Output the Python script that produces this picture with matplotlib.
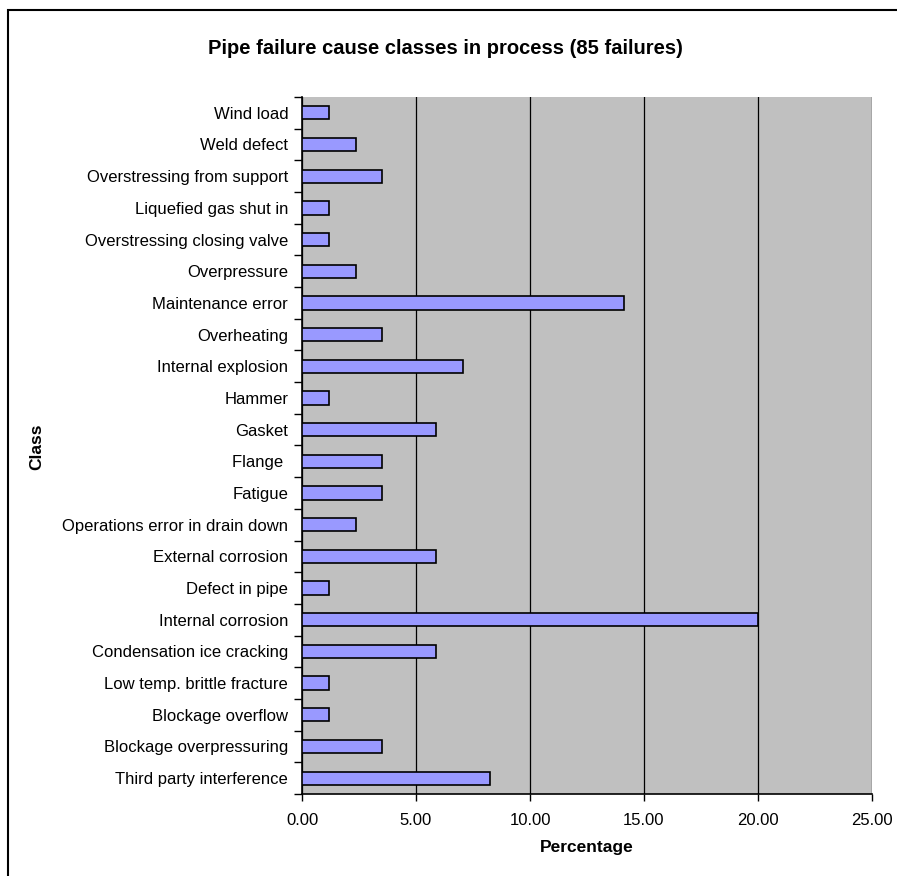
import numpy as np
import matplotlib
matplotlib.use("Agg")
import matplotlib.pyplot as plt
from matplotlib.patches import Rectangle

# Classes, listed from top of chart to bottom
classes = [
    "Wind load",
    "Weld defect",
    "Overstressing from support",
    "Liquefied gas shut in",
    "Overstressing closing valve",
    "Overpressure",
    "Maintenance error",
    "Overheating",
    "Internal explosion",
    "Hammer",
    "Gasket",
    "Flange ",
    "Fatigue",
    "Operations error in drain down",
    "External corrosion",
    "Defect in pipe",
    "Internal corrosion",
    "Condensation ice cracking",
    "Low temp. brittle fracture",
    "Blockage overflow",
    "Blockage overpressuring",
    "Third party interference",
]

# Percentage of the 85 failures
percent = [
    1.18, 2.35, 3.53, 1.18, 1.18, 2.35, 14.12, 3.53, 7.06, 1.18, 5.88,
    3.53, 3.53, 2.35, 5.88, 1.18, 20.00, 5.88, 1.18, 1.18, 3.53, 8.24,
]

x_ticks = [0, 5, 10, 15, 20, 25]

plt.rcParams["font.family"] = ["Liberation Sans", "DejaVu Sans"]

fig = plt.figure(figsize=(8.97, 8.76), dpi=100)
ax = fig.add_axes([0.3367, 0.0936, 0.6354, 0.7957])

# Excel puts the first category at the bottom
labels = classes[::-1]
values = percent[::-1]
y = np.arange(len(labels))

ax.set_facecolor("#C0C0C0")
ax.barh(y, values, height=0.42, color="#9999FF", edgecolor="black",
        linewidth=1.2, zorder=3)

ax.set_xlim(0, 25)
ax.set_ylim(-0.5, len(labels) - 0.5)
ax.set_xticks(x_ticks)
ax.set_xticklabels([f"{v:.2f}" for v in x_ticks], fontsize=12)
ax.xaxis.grid(True, color="black", linewidth=0.9, zorder=1)
ax.tick_params(axis="x", direction="out", length=5, width=1, pad=9)

ax.set_yticks(y)
ax.set_yticklabels(labels, fontsize=12)
ax.set_yticks(np.arange(-0.5, len(labels)), minor=True)
ax.tick_params(axis="y", which="major", length=0, pad=10)
ax.tick_params(axis="y", which="minor", direction="out", length=6, width=1)

for side in ["top", "right"]:
    ax.spines[side].set_visible(False)
for side in ["left", "bottom"]:
    ax.spines[side].set_linewidth(1.2)

ax.set_xlabel("Percentage", fontsize=12.5, fontweight="bold", labelpad=8)
fig.text(0.041, 0.49, "Class", rotation=90, fontsize=12.5,
         fontweight="bold", ha="center", va="center")
fig.text(0.497, 0.945, "Pipe failure cause classes in process (85 failures)",
         fontsize=14.5, fontweight="bold", ha="center", va="center")

# outer chart border (right and bottom sides fall outside the image)
fig.patches.append(Rectangle((8 / 897, -0.1), 1.2, 1.1 - 10 / 876,
                             transform=fig.transFigure, fill=False,
                             edgecolor="black", linewidth=1.5))

fig.savefig("out.png", dpi=100)
